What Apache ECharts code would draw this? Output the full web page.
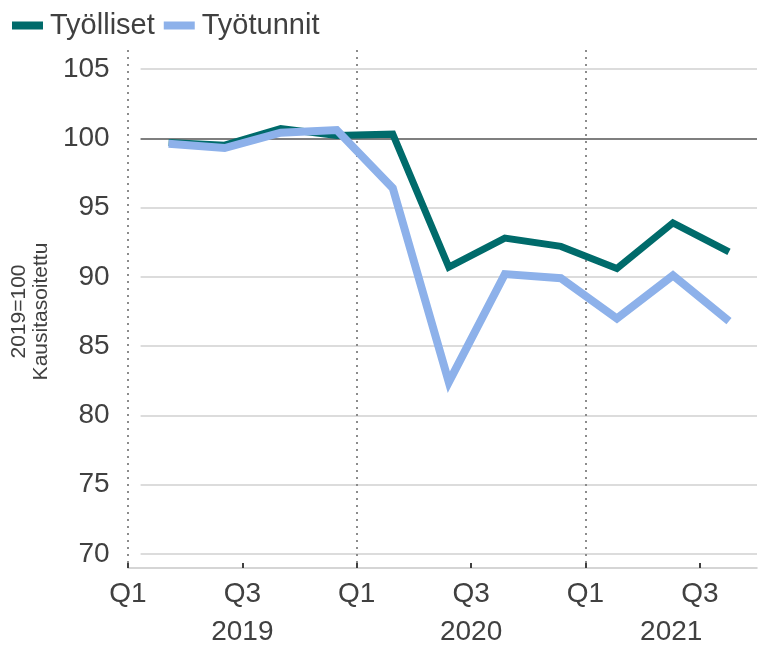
<!DOCTYPE html>
<html>
<head>
<meta charset="utf-8">
<script src="https://cdn.jsdelivr.net/npm/echarts@6/dist/echarts.min.js"></script>
<style>
  html, body { margin: 0; padding: 0; background: #fff; }
  #chart { width: 772px; height: 646px; }
</style>
</head>
<body>
<div id="chart"></div>
<script>
// quarters shown, one point each
const quarters = ["2019Q1", "2019Q2", "2019Q3", "2019Q4", "2020Q1", "2020Q2", "2020Q3", "2020Q4", "2021Q1", "2021Q2", "2021Q3"];
const tyolliset = [99.7, 99.5, 100.7, 100.2, 100.3, 90.7, 92.8, 92.2, 90.6, 93.9, 91.8];
const tyotunnit = [99.6, 99.3, 100.4, 100.6, 96.4, 82.4, 90.2, 89.9, 87.0, 90.1, 86.8];
// quarter boundary labels (start of each quarter + closing edge)
const quarterTicks = ["Q1", "Q2", "Q3", "Q4", "Q1", "Q2", "Q3", "Q4", "Q1", "Q2", "Q3", "Q4"];
const years = ["2019", "2020", "2021"];

const FONT = "Liberation Sans, Arial, sans-serif";
const TEXT = "#404040";

// year labels sit in the middle of each year's quarters, on a half-quarter axis
const halfSteps = [];
for (let i = 0; i <= quarters.length * 2; i++) halfSteps.push("");
years.forEach((y) => {
  const idx = quarters.map((q, i) => (q.startsWith(y) ? i : -1)).filter((i) => i >= 0);
  const mid = idx[0] + idx[idx.length - 1] + 1; // in half quarters
  halfSteps[mid] = y;
});

const chart = echarts.init(document.getElementById("chart"), null, { renderer: "canvas" });

const option = {
  animation: false,
  textStyle: { fontFamily: FONT },
  legend: {
    left: 7,
    top: 6,
    icon: "rect",
    itemWidth: 31,
    itemHeight: 8,
    itemGap: 9,
    textStyle: { fontSize: 29, color: TEXT, fontFamily: FONT, padding: [0, 0, 0, 2] },
    data: ["Työlliset", "Työtunnit"],
  },
  grid: [
    // data area: 70..105
    { left: 128, right: 15, top: 69, bottom: 92 },
    // frame: axis line and dotted year lines
    { left: 128, right: 15, top: 50, bottom: 74 },
  ],
  xAxis: [
    {
      gridIndex: 0,
      type: "category",
      data: quarters,
      boundaryGap: true,
      show: false,
    },
    {
      gridIndex: 1,
      type: "category",
      data: quarterTicks,
      boundaryGap: false,
      position: "bottom",
      axisLine: { show: true, lineStyle: { color: "#c8c8c8", width: 1.5 } },
      axisTick: {
        show: true,
        inside: true,
        length: 5,
        interval: (i) => i % 2 === 0 && i < quarterTicks.length - 1,
        lineStyle: { color: "#404040", width: 2 },
      },
      axisLabel: {
        interval: (i) => i % 2 === 0 && i < quarterTicks.length - 1,
        fontSize: 28,
        color: TEXT,
        fontFamily: FONT,
        margin: 12,
      },
      splitLine: {
        show: true,
        interval: (i) => i % 4 === 0,
        lineStyle: { color: "#8c8c8c", width: 2, type: [2, 5] },
      },
    },
    {
      gridIndex: 1,
      type: "category",
      data: halfSteps,
      boundaryGap: false,
      position: "bottom",
      axisLine: { show: false },
      axisTick: { show: false },
      splitLine: { show: false },
      axisLabel: {
        interval: 0,
        fontSize: 28,
        color: TEXT,
        fontFamily: FONT,
        margin: 50,
      },
    },
  ],
  yAxis: [
    {
      gridIndex: 0,
      type: "value",
      min: 70,
      max: 105,
      interval: 5,
      axisLine: { show: false },
      axisTick: { show: false },
      axisLabel: { fontSize: 28, color: TEXT, fontFamily: FONT, margin: 31 },
      splitLine: { lineStyle: { color: "#d0d0d0", width: 1.5 } },
      name: "2019=100\nKausitasoitettu",
      nameLocation: "middle",
      nameRotate: 90,
      nameGap: 86,
      nameTextStyle: { fontSize: 21, color: TEXT, fontFamily: FONT, lineHeight: 22 },
    },
    {
      gridIndex: 1,
      type: "value",
      min: 0,
      max: 1,
      show: false,
    },
  ],
  series: [
    {
      name: "Työlliset",
      type: "line",
      xAxisIndex: 0,
      yAxisIndex: 0,
      data: tyolliset,
      showSymbol: false,
      color: "#006B6B",
      lineStyle: { width: 7, color: "#006B6B", join: "miter" },
      z: 3,
      markLine: {
        silent: true,
        symbol: "none",
        label: { show: false },
        lineStyle: { color: "#7f7f7f", width: 2, type: "solid" },
        data: [{ yAxis: 100 }],
        z: 1,
      },
    },
    {
      name: "Työtunnit",
      type: "line",
      xAxisIndex: 0,
      yAxisIndex: 0,
      data: tyotunnit,
      showSymbol: false,
      color: "#8DB1EA",
      lineStyle: { width: 8, color: "#8DB1EA", join: "miter" },
      z: 4,
    },
  ],
};

chart.setOption(option);
</script>
</body>
</html>
